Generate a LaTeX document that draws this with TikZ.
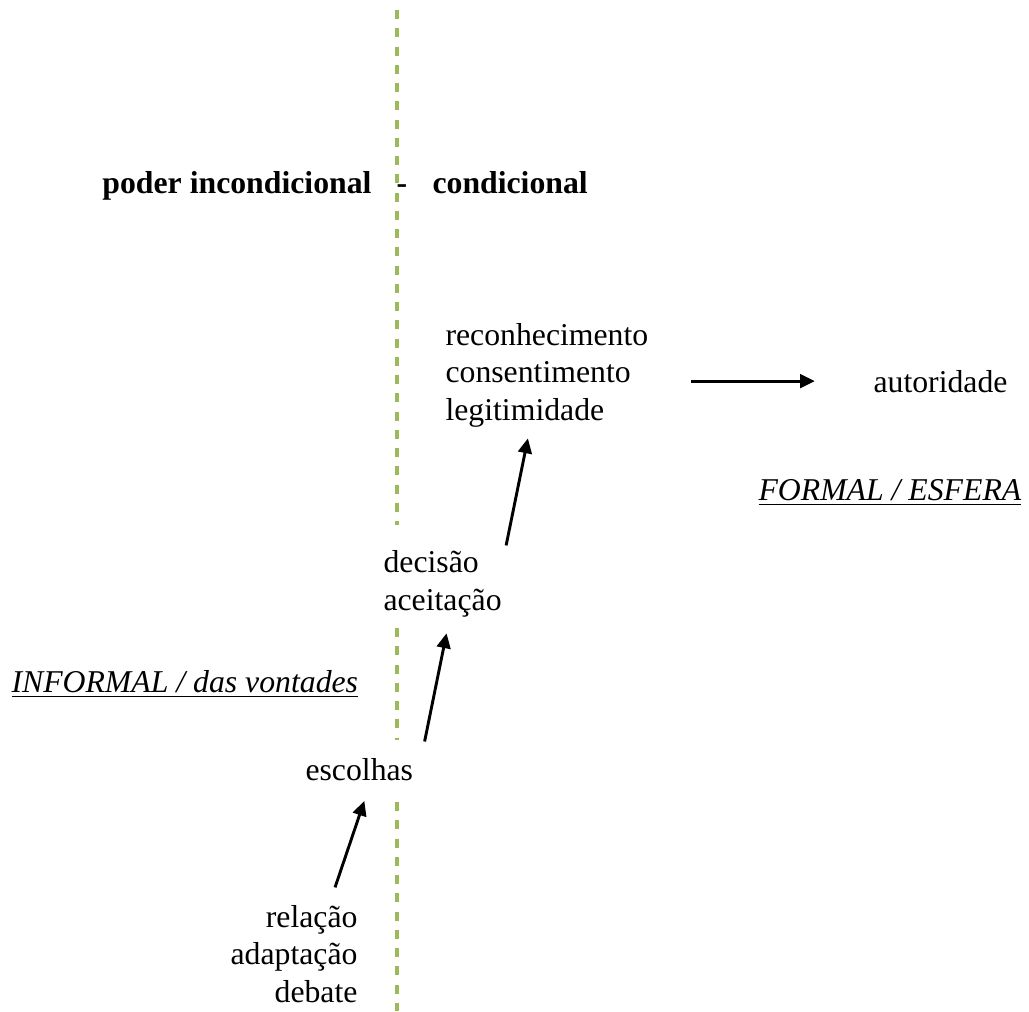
\documentclass[tikz,border=0pt]{standalone}
\usepackage{fontspec}
\setmainfont{Liberation Serif}
\usepackage{xcolor}
\usetikzlibrary{arrows.meta}
\definecolor{divgreen}{HTML}{9BBB59}

\begin{document}
\begin{tikzpicture}[
  x = 0.378pt, y = -0.378pt,
  every node/.style = {inner sep = 0pt, font = \fontsize{12}{14}\selectfont},
  arrow/.style = {line width = 1.1pt, -{Triangle[length = 5.6pt, width = 5.2pt]}},
  divider/.style = {divgreen, line width = 1.2pt, dash pattern = on 3.4pt off 3.5pt}
  ]
  \useasboundingbox (0,0) rectangle (1029,1011);
  % green dividing line
  \draw[divider] (397,10) -- (397,525);
  \draw[divider] (397,628) -- (397,740);
  \draw[divider] (397,802) -- (397,1011);
  % headings
  \node[anchor = base east, font = \fontsize{12}{14}\selectfont\bfseries] (poder) at (372,193) {poder incondicional};
  \node[anchor = base west, font = \fontsize{12}{14}\selectfont\bfseries] (traco) at (396,193) {-};
  \node[anchor = base west, font = \fontsize{12}{14}\selectfont\bfseries] (condicional) at (432,193) {condicional};
  % chain
  \node[anchor = base west, align = left] (reconhec) at (445,420)
    {reconhecimento\\consentimento\\legitimidade};
  \node[anchor = base west] (autoridade) at (873,392) {autoridade};
  \node[anchor = base west] (formal) at (758,500) {\underline{\textit{FORMAL / ESFERA}}};
  \node[anchor = base west, align = left] (decisao) at (383,610) {decisão\\aceitação};
  \node[anchor = base west] (informal) at (11,692) {\underline{\textit{INFORMAL / das vontades}}};
  \node[anchor = base west] (escolhas) at (305,780) {escolhas};
  \node[anchor = base east, align = right] (relacao) at (358,1002) {relação\\adaptação\\debate};
  % arrows
  \draw[arrow, shorten <= 16pt, shorten >= 22pt] (reconhec.east |- autoridade.west) -- (autoridade.west);
  \draw[arrow] ([shift = {(4,-5)}]decisao.north east) -- ([shift = {(-19,11)}]reconhec.south);
  \draw[arrow] ([shift = {(11,-16)}]escolhas.north east) -- ([shift = {(4,16)}]decisao.south);
  \draw[arrow] ([shift = {(41,-18)}]relacao.north) -- ([shift = {(5,20)}]escolhas.south);
\end{tikzpicture}
\end{document}
